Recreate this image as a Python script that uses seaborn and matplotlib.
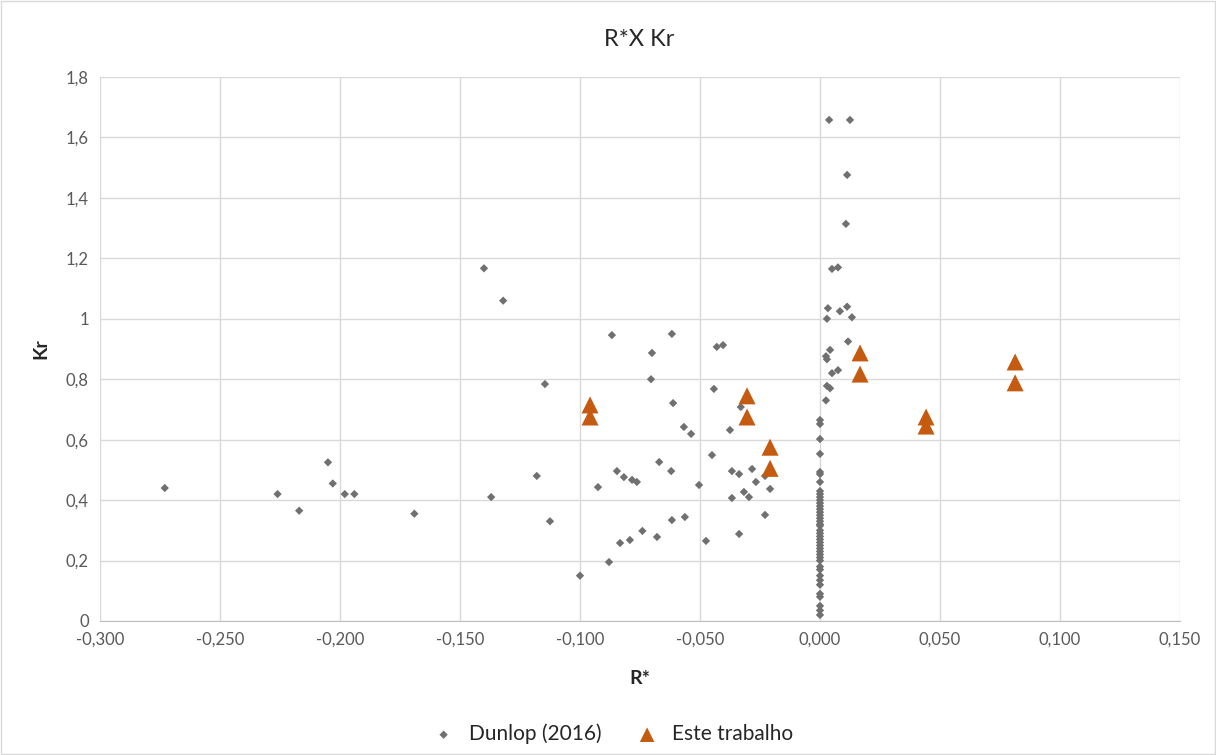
import numpy as np
import pandas as pd
import seaborn as sns
import matplotlib.pyplot as plt
from matplotlib.ticker import FuncFormatter, MultipleLocator
from matplotlib.patches import Rectangle

# Dunlop (2016) points off zero
dunlop_r = [-0.273, -0.226, -0.217, -0.205, -0.203, -0.198, -0.194, -0.169, -0.140, -0.132,
            -0.137, -0.118, -0.1146, -0.1125, -0.100, -0.0925, -0.0879, -0.0867, -0.0846, -0.0833,
            -0.0817, -0.0792, -0.0783, -0.0763, -0.074, -0.0704, -0.070, -0.0679, -0.067, -0.0617,
            -0.0617, -0.062, -0.0612, -0.0567, -0.0563, -0.0537, -0.0504, -0.0475, -0.045, -0.0442,
            -0.043, -0.0404, -0.0375, -0.0367, -0.0367, -0.0337, -0.0337, -0.033, -0.0317, -0.0296,
            -0.0283, -0.0267, -0.0229, -0.0229, -0.0208,
            0.0038, 0.0125, 0.0113, 0.0108, 0.005, 0.0075, 0.0033, 0.0029, 0.0083, 0.0113,
            0.0133, 0.0117, 0.0042, 0.0025, 0.0029, 0.005, 0.0075, 0.0029, 0.0042, 0.0025]
dunlop_kr = [0.44, 0.42, 0.365, 0.525, 0.455, 0.42, 0.42, 0.355, 1.167, 1.06,
             0.41, 0.48, 0.784, 0.33, 0.15, 0.443, 0.195, 0.946, 0.496, 0.258,
             0.476, 0.268, 0.467, 0.46, 0.298, 0.80, 0.887, 0.278, 0.526, 0.950,
             0.334, 0.496, 0.721, 0.642, 0.344, 0.619, 0.45, 0.265, 0.549, 0.768,
             0.907, 0.913, 0.632, 0.496, 0.407, 0.486, 0.288, 0.708, 0.427, 0.41,
             0.503, 0.46, 0.48, 0.351, 0.437,
             1.658, 1.658, 1.476, 1.314, 1.165, 1.17, 1.035, 1.0, 1.025, 1.04,
             1.005, 0.925, 0.897, 0.876, 0.866, 0.82, 0.83, 0.778, 0.77, 0.73]

# Dunlop (2016) points at R* = 0
dunlop_zero_kr = [0.665, 0.652, 0.602, 0.553, 0.493, 0.486, 0.46, 0.43, 0.42, 0.41, 0.40,
                  0.39, 0.38, 0.37, 0.36, 0.35, 0.34, 0.33, 0.32, 0.315, 0.30, 0.29,
                  0.28, 0.27, 0.26, 0.25, 0.24, 0.23, 0.22, 0.21, 0.20, 0.18, 0.17,
                  0.15, 0.135, 0.12, 0.09, 0.08, 0.05, 0.035, 0.02]

# Este trabalho
este_r = [-0.0958, -0.0958, -0.0304, -0.0304, -0.0208, -0.0208, 0.0167, 0.0167, 0.0442, 0.0442, 0.0813, 0.0813]
este_kr = [0.715, 0.675, 0.745, 0.675, 0.575, 0.505, 0.887, 0.817, 0.675, 0.645, 0.857, 0.788]

dunlop = pd.DataFrame({"R*": dunlop_r + [0.0] * len(dunlop_zero_kr),
                       "Kr": dunlop_kr + dunlop_zero_kr})
este = pd.DataFrame({"R*": este_r, "Kr": este_kr})

sns.set_style("white")
plt.rcParams['font.family'] = ['Lato', 'DejaVu Sans']

fig = plt.figure(figsize=(12.16, 7.55), dpi=100)
ax = fig.add_axes([0.0822, 0.1775, 0.8882, 0.7205])

sns.scatterplot(data=dunlop, x="R*", y="Kr", marker="D", s=18, color="#707070",
                edgecolor="none", ax=ax, label="Dunlop (2016)", zorder=3)
sns.scatterplot(data=este, x="R*", y="Kr", marker="^", s=150, color="#C55A11",
                edgecolor="none", ax=ax, label="Este trabalho", zorder=4)

ax.set_xlim(-0.3, 0.15)
ax.set_ylim(0, 1.8)
ax.xaxis.set_major_locator(MultipleLocator(0.05))
ax.yaxis.set_major_locator(MultipleLocator(0.2))
ax.xaxis.set_major_formatter(FuncFormatter(lambda v, p: f"{v:.3f}".replace(".", ",").replace("-0,000", "0,000")))
ax.yaxis.set_major_formatter(FuncFormatter(lambda v, p: f"{round(v, 1):g}".replace(".", ",")))
ax.grid(True, color="#d9d9d9", linewidth=1)
ax.set_axisbelow(True)
for s in ["top", "right", "left"]:
    ax.spines[s].set_visible(False)
ax.spines["bottom"].set_color("#bfbfbf")
ax.tick_params(length=0, labelsize=12, labelcolor="#595959", pad=8)

ax.set_xlabel("R*", fontsize=14, fontweight="bold", color="#262626", labelpad=16)
ax.set_ylabel("Kr", fontsize=14, fontweight="bold", color="#262626", labelpad=12)
fig.suptitle("R*X Kr", x=0.526, y=0.962, fontsize=17, color="#262626")

leg = ax.legend(loc="center", bbox_to_anchor=(0.5, 0.028), bbox_transform=fig.transFigure,
                ncol=2, frameon=False, fontsize=15, handletextpad=0.2, columnspacing=1.2,
                labelcolor="#262626")
leg.legend_handles[1].set_sizes([110])

fig.patches.append(Rectangle((0.001, 0.001), 0.998, 0.998, transform=fig.transFigure,
                             fill=False, edgecolor="#d9d9d9", linewidth=1))

fig.savefig("out.png", dpi=100)
